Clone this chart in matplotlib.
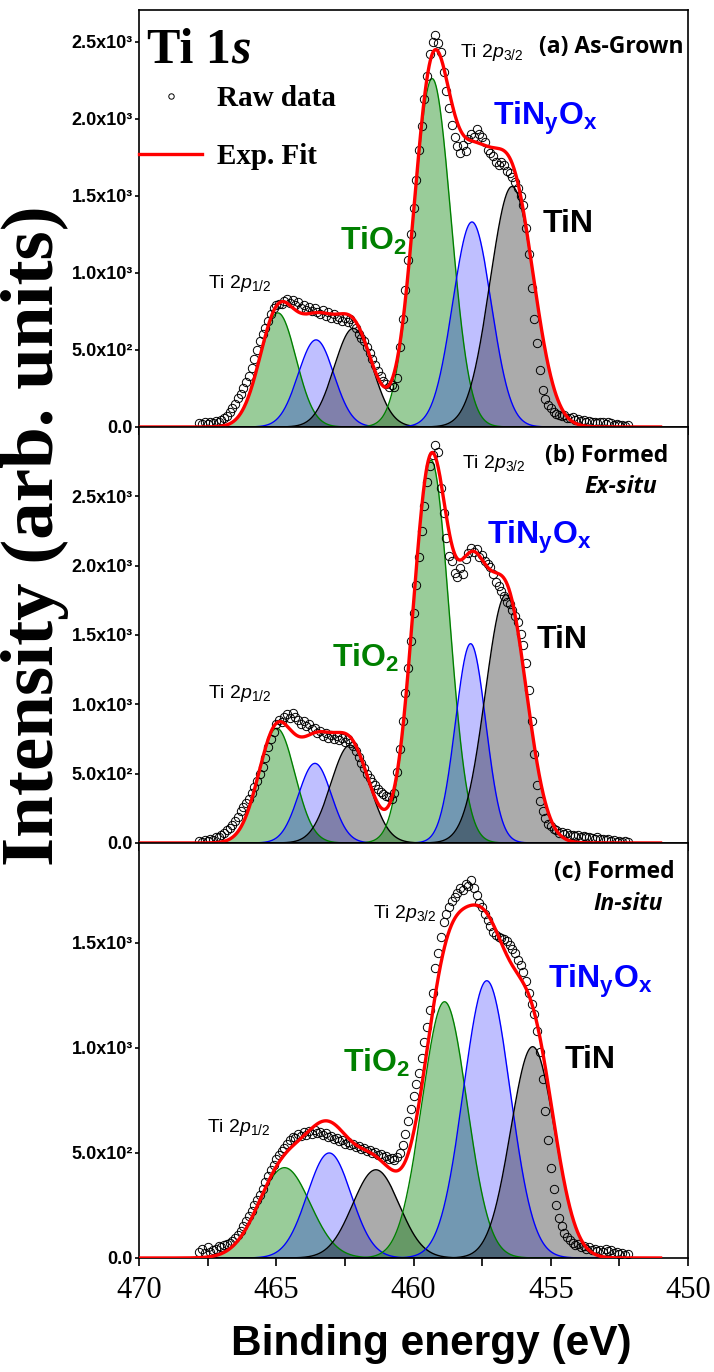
import numpy as np
import matplotlib
matplotlib.use("Agg")
import matplotlib.pyplot as plt
from matplotlib.ticker import FixedLocator, FuncFormatter

plt.rcParams["mathtext.fontset"] = "custom"
plt.rcParams["mathtext.rm"] = "Liberation Sans"
plt.rcParams["mathtext.it"] = "Liberation Sans:italic"
plt.rcParams["mathtext.bf"] = "Liberation Sans:bold"

# fitted components, order: TiO2, TiNyOx, TiN (2p1/2) then TiO2, TiNyOx, TiN (2p3/2)
centers_a = [464.94, 463.55, 462.19, 459.32, 457.87, 456.41]
heights_a = [740, 565, 640, 2260, 1330, 1560]
fwhm_a = [1.55, 1.53, 1.65, 1.60, 1.65, 1.88]

centers_b = [464.98, 463.59, 462.31, 459.36, 457.92, 456.63]
heights_b = [827, 574, 706, 2760, 1437, 1790]
fwhm_b = [1.55, 1.41, 1.65, 1.55, 1.30, 1.77]

centers_c = [464.70, 463.07, 461.37, 458.87, 457.33, 455.66]
heights_c = [430, 500, 420, 1220, 1320, 1006]
fwhm_c = [2.20, 1.88, 2.00, 1.93, 2.00, 1.88]

# raw spectra, 467.8 -> 452.2 eV in 0.1 eV steps
raw_energy = np.linspace(467.8, 452.2, 157)
raw_a = [25, 18, 30, 22, 35, 28, 40, 32, 45, 55,
         70, 95, 120, 150, 185, 215, 250, 290, 330, 380,
         440, 500, 555, 600, 640, 690, 730, 770, 790, 800,
         795, 815, 830, 805, 825, 790, 810, 770, 790, 760,
         780, 755, 770, 745, 735, 760, 720, 745, 705, 730,
         700, 715, 690, 710, 680, 700, 665, 640, 600, 580,
         560, 520, 480, 440, 400, 360, 330, 300, 280, 260,
         270, 260, 320, 520, 700, 890, 1080, 1250, 1420, 1600,
         1800, 1950, 2130, 2280, 2420, 2500, 2540, 2490, 2430, 2300,
         2180, 2070, 1960, 1880, 1820, 1780, 1830, 1790, 1870, 1900,
         1880, 1930, 1900, 1880, 1850, 1800, 1780, 1760, 1720, 1700,
         1720, 1700, 1660, 1650, 1620, 1590, 1550, 1500, 1440, 1290,
         1120, 900, 700, 545, 370, 240, 180, 145, 125, 100,
         85, 80, 70, 75, 60, 55, 65, 45, 50, 40,
         45, 35, 40, 30, 35, 25, 30, 35, 20, 30,
         25, 15, 20, 10, 15, 8, 12]
raw_b = [15, 10, 20, 15, 25, 20, 40, 45, 60, 75,
         95, 110, 130, 160, 190, 230, 260, 290, 320, 360,
         400, 450, 500, 550, 610, 690, 750, 800, 860, 890,
         870, 910, 930, 900, 940, 910, 890, 860, 880, 840,
         860, 820, 830, 790, 810, 770, 790, 760, 780, 750,
         770, 740, 760, 730, 750, 720, 700, 660, 620, 580,
         540, 500, 470, 440, 420, 390, 370, 350, 340, 330,
         320, 360, 510, 680, 880, 1080, 1260, 1460, 1660, 1860,
         2060, 2250, 2430, 2600, 2720, 2800, 2870, 2820, 2560, 2380,
         2200, 2070, 2030, 1950, 1920, 1980, 1940, 2050, 2090, 2130,
         2100, 2120, 2060, 2080, 2030, 2010, 1990, 1940, 1880, 1850,
         1820, 1780, 1740, 1720, 1680, 1640, 1590, 1510, 1430, 1300,
         1100, 880, 640, 420, 300, 230, 180, 140, 120, 100,
         90, 75, 80, 65, 70, 55, 60, 50, 55, 45,
         50, 40, 45, 35, 30, 40, 25, 30, 20, 25,
         15, 20, 10, 15, 10, 12, 8]
raw_c = [30, 45, 25, 50, 30, 40, 45, 55, 50, 60,
         65, 70, 80, 95, 110, 130, 150, 175, 200, 225,
         250, 275, 300, 330, 360, 390, 420, 445, 470, 490,
         510, 525, 545, 560, 575, 570, 590, 580, 600, 585,
         605, 590, 610, 595, 600, 585, 595, 575, 580, 565,
         570, 555, 560, 545, 550, 540, 545, 530, 535, 520,
         525, 510, 515, 500, 505, 490, 495, 480, 485, 470,
         475, 465, 480, 500, 540, 590, 650, 710, 770, 830,
         880, 950, 1030, 1100, 1180, 1260, 1380, 1450, 1530, 1600,
         1640, 1670, 1700, 1720, 1740, 1760, 1750, 1780, 1770, 1800,
         1760, 1730, 1690, 1670, 1640, 1610, 1580, 1550, 1540, 1530,
         1525, 1520, 1510, 1490, 1470, 1450, 1420, 1395, 1360, 1320,
         1260, 1210, 1160, 1080, 980, 850, 700, 560, 430, 330,
         250, 190, 150, 120, 100, 85, 70, 60, 65, 50,
         55, 45, 50, 40, 45, 35, 40, 30, 45, 35,
         40, 25, 30, 20, 25, 15, 20]

ymax = [2705, 3000, 1976]
yticks = [[0, 500, 1000, 1500, 2000, 2500], [0, 500, 1000, 1500, 2000, 2500], [0, 500, 1000, 1500]]

FILL = ["green", "blue", "black", "green", "blue", "black"]
FILL_ALPHA = {"green": 0.40, "blue": 0.25, "black": 0.33}
SUP = {2: "\u00b2", 3: "\u00b3"}


def gauss(x, center, height, fwhm):
    sigma = fwhm / 2.3548
    return height * np.exp(-((x - center) ** 2) / (2 * sigma ** 2))


def sci_label(value, pos):
    if value == 0:
        return "0.0"
    exp = int(np.floor(np.log10(value)))
    return f"{value / 10 ** exp:.1f}x10{SUP[exp]}"


def draw_panel(ax, centers, heights, widths, raw, top, ticks, bottom_labels):
    x = np.linspace(451.0, 470.0, 1500)
    total = np.zeros_like(x)
    for c, h, w, color in zip(centers, heights, widths, FILL):
        y = gauss(x, c, h, w)
        total += y
        ax.fill_between(x, 0, y, color=color, alpha=FILL_ALPHA[color], lw=0)
        ax.plot(x, y, color=color, lw=1.0)
    pts, = ax.plot(raw_energy, raw, "o", mfc="none", mec="black", ms=6, mew=0.7,
                   label="Raw data", zorder=4)
    fit, = ax.plot(x, total, color="red", lw=2.4, label="Exp. Fit", zorder=5)

    ax.set_xlim(470, 450)
    ax.set_ylim(0, top)
    ax.xaxis.set_major_locator(FixedLocator([470, 465, 460, 455, 450]))
    ax.xaxis.set_minor_locator(FixedLocator([467.5, 462.5, 457.5, 452.5]))
    ax.yaxis.set_major_locator(FixedLocator(ticks))
    ax.yaxis.set_major_formatter(FuncFormatter(sci_label))
    ax.tick_params(axis="x", which="both", direction="out", length=6, width=1.2,
                   labelbottom=bottom_labels, labelsize=22, pad=7)
    ax.tick_params(axis="y", direction="out", length=3, width=1.2, pad=1.5)
    for lab in ax.get_yticklabels():
        lab.set_fontfamily("Liberation Sans")
        lab.set_fontweight("bold")
        lab.set_fontsize(13)
    for lab in ax.get_xticklabels():
        lab.set_fontfamily("Liberation Serif")
    for spine in ax.spines.values():
        spine.set_linewidth(1.2)
    return pts, fit


def species_labels(ax, p32, p12, tio2, tinox, tin):
    sans = "Liberation Sans"
    ax.text(*p32, r"Ti 2$\mathit{p}_{3/2}$", transform=ax.transAxes, fontsize=14, family=sans)
    ax.text(*p12, r"Ti 2$\mathit{p}_{1/2}$", transform=ax.transAxes, fontsize=14, family=sans)
    ax.text(*tio2, r"TiO$_\mathbf{2}$", transform=ax.transAxes, fontsize=23, family=sans,
            fontweight="bold", color="green")
    ax.text(*tinox, r"TiN$_\mathbf{y}$O$_\mathbf{x}$", transform=ax.transAxes, fontsize=23,
            family=sans, fontweight="bold", color="blue")
    ax.text(*tin, "TiN", transform=ax.transAxes, fontsize=23, family=sans, fontweight="bold")


def main():
    fig = plt.figure(figsize=(7.14, 13.72), dpi=100)
    ax_a = fig.add_axes([0.1947, 0.6888, 0.7689, 0.3039])
    ax_b = fig.add_axes([0.1947, 0.3856, 0.7689, 0.3032])
    ax_c = fig.add_axes([0.1947, 0.0831, 0.7689, 0.3025])

    pts_a, fit_a = draw_panel(ax_a, centers_a, heights_a, fwhm_a, raw_a, ymax[0], yticks[0], False)
    draw_panel(ax_b, centers_b, heights_b, fwhm_b, raw_b, ymax[1], yticks[1], False)
    draw_panel(ax_c, centers_c, heights_c, fwhm_c, raw_c, ymax[2], yticks[2], True)

    species_labels(ax_a, (0.5847, 0.887), (0.1257, 0.3333), (0.3661, 0.4245), (0.6448, 0.7242), (0.7359, 0.4676))
    species_labels(ax_b, (0.5883, 0.9014), (0.1257, 0.3486), (0.3515, 0.4231), (0.6339, 0.7188), (0.725, 0.4688))
    species_labels(ax_c, (0.4262, 0.8193), (0.1239, 0.3036), (0.3716, 0.4482), (0.745, 0.6506), (0.776, 0.4578))

    box = dict(fontsize=16.5, family="Open Sans", fontweight="bold", ha="right")
    ax_a.text(0.9927, 0.8969, "(a) As-Grown", transform=ax_a.transAxes, **box)
    ax_b.text(0.9636, 0.9159, "(b) Formed", transform=ax_b.transAxes, **box)
    ax_b.text(0.9435, 0.8413, "Ex-situ", transform=ax_b.transAxes, style="italic", **box)
    ax_c.text(0.9763, 0.9157, "(c) Formed", transform=ax_c.transAxes, **box)
    ax_c.text(0.9545, 0.8386, "In-situ", transform=ax_c.transAxes, style="italic", **box)

    t1 = ax_a.text(0.0146, 0.8465, "Ti 1", transform=ax_a.transAxes, fontsize=36,
                   family="Liberation Serif", fontweight="bold", va="bottom")
    ax_a.annotate("s", xy=(1, 0), xycoords=t1, va="bottom", fontsize=36,
                  family="Liberation Serif", fontweight="bold", style="italic")

    ax_a.legend(handles=[pts_a, fit_a], loc="upper left", bbox_to_anchor=(0, 0.82), frameon=False,
                borderpad=0, borderaxespad=0, handlelength=2.16, handletextpad=0.5, markerscale=0.65,
                labelspacing=1.07, prop={"family": "Liberation Serif", "weight": "bold", "size": 21})

    fig.text(69 / 714, 1 - 536 / 1372, "Intensity (arb. units)", rotation=90, ha="right",
             va="center", fontsize=54, fontweight="bold", family="Liberation Serif")
    fig.text(431 / 714, 1 - 1355 / 1372, "Binding energy (eV)", ha="center", va="baseline",
             fontsize=30.5, fontweight="bold", family="Liberation Sans")

    fig.savefig("out.png", dpi=100)


if __name__ == "__main__":
    main()
